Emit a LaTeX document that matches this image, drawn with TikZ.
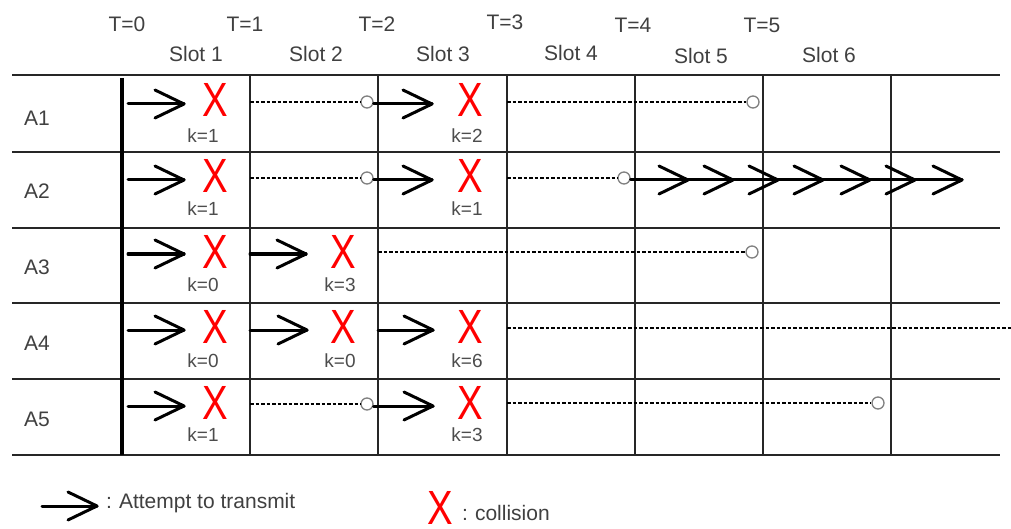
\documentclass[tikz,border=0pt]{standalone}
\usepackage{fontspec}
\setmainfont{Liberation Sans}
\usepackage{graphicx}
\def\chev(#1,#2){\draw[send] (#1-29,#2-14) -- (#1,#2) -- (#1-29,#2+14);}
\tikzset{
	gridline/.style={line width=2pt, color=black!85},
	send/.style={line width=3pt, line cap=round, line join=round},
	wait/.style={line width=1.2pt, dash pattern=on 3.5pt off 2pt},
	backoff/.style={circle, draw=black!50, fill=white, line width=1.3pt, inner sep=0pt, minimum size=12pt},
	lbl/.style={text=black!75, font=\fontsize{21}{24}\selectfont, inner sep=0pt},
	kval/.style={text=black!70, font=\fontsize{19}{22}\selectfont, inner sep=0pt},
	hit/.style={text=red, font=\fontsize{48}{48}\selectfont, inner sep=0pt},
}

\begin{document}
\begin{tikzpicture}[x=1pt, y=-1pt]
			%%%%% START %%%%%
			\useasboundingbox (0,0) rectangle (1011,529);
			
			\node[lbl] (t0) at (127,24) {T=0};
			\node[lbl] (t1) at (245,24) {T=1};
			\node[lbl] (t2) at (377,24) {T=2};
			\node[lbl] (t3) at (505,22) {T=3};
			\node[lbl] (t4) at (633,25) {T=4};
			\node[lbl] (t5) at (762,25) {T=5};
			
			\node[lbl] (s1) at (196,54) {Slot 1};
			\node[lbl] (s2) at (316,54) {Slot 2};
			\node[lbl] (s3) at (443,54) {Slot 3};
			\node[lbl] (s4) at (571,53) {Slot 4};
			\node[lbl] (s5) at (701,56) {Slot 5};
			\node[lbl] (s6) at (829,55) {Slot 6};
			
			\draw[gridline] (12,75) -- (1000,75);
			\draw[gridline] (12,152) -- (1000,152);
			\draw[gridline] (12,228) -- (1000,228);
			\draw[gridline] (12,303) -- (1000,303);
			\draw[gridline] (12,379) -- (1000,379);
			\draw[gridline] (12,455) -- (1000,455);
			\draw[gridline] (250,75) -- (250,455);
			\draw[gridline] (378,75) -- (378,455);
			\draw[gridline] (507,75) -- (507,455);
			\draw[gridline] (635,75) -- (635,455);
			\draw[gridline] (763,75) -- (763,455);
			\draw[gridline] (891,75) -- (891,455);
			\draw[line width=4.5pt] (122,78) -- (122,455);
			
			\node[lbl] (a1) at (37,118) {A1};
			\node[lbl] (a2) at (37,191) {A2};
			\node[lbl] (a3) at (37,267) {A3};
			\node[lbl] (a4) at (37,343) {A4};
			\node[lbl] (a5) at (37,419) {A5};
			
			% A1
			\draw[send] (128,104) -- (184,104); \chev(184,104);
			\node[hit] (x11) at (215,100) {\scalebox{0.8}[1]{X}};
			\node[kval] (k11) at (203,136) {k=1};
			\node[backoff] (w12) at (367,102) {};
			\draw[wait] (250,102) -- (w12.west);
			\draw[send] (w12.east |- 0,104) -- (432,104); \chev(432,104);
			\node[hit] (x13) at (470,100) {\scalebox{0.8}[1]{X}};
			\node[kval] (k13) at (467,136) {k=2};
			\node[backoff] (w15) at (753,102) {};
			\draw[wait] (507,102) -- (w15.west);
			
			% A2
			\draw[send] (128,180) -- (184,180); \chev(184,180);
			\node[hit] (x21) at (215,176) {\scalebox{0.8}[1]{X}};
			\node[kval] (k21) at (203,209) {k=1};
			\node[backoff] (w22) at (367,178) {};
			\draw[wait] (250,178) -- (w22.west);
			\draw[send] (w22.east |- 0,180) -- (432,180); \chev(432,180);
			\node[hit] (x23) at (470,176) {\scalebox{0.8}[1]{X}};
			\node[kval] (k23) at (467,209) {k=1};
			\node[backoff] (w24) at (624,178) {};
			\draw[wait] (507,178) -- (w24.west);
			\draw[send] (w24.east |- 0,180) -- (962,180);
			\chev(688,180); \chev(733,180); \chev(778,180); \chev(823,180);
			\chev(870,180); \chev(915,180); \chev(962,180);
			
			% A3
			\draw[send] (128,254) -- (184,254); \chev(184,254);
			\node[hit] (x31) at (215,252) {\scalebox{0.8}[1]{X}};
			\node[kval] (k31) at (203,285) {k=0};
			\draw[send] (250,254) -- (306,254); \chev(306,254);
			\node[hit] (x32) at (343,252) {\scalebox{0.8}[1]{X}};
			\node[kval] (k32) at (340,285) {k=3};
			\node[backoff] (w35) at (752,252) {};
			\draw[wait] (378,252) -- (w35.west);
			
			% A4
			\draw[send] (128,330) -- (184,330); \chev(184,330);
			\node[hit] (x41) at (215,327) {\scalebox{0.8}[1]{X}};
			\node[kval] (k41) at (203,361) {k=0};
			\draw[send] (250,330) -- (307,330); \chev(307,330);
			\node[hit] (x42) at (343,327) {\scalebox{0.8}[1]{X}};
			\node[kval] (k42) at (340,361) {k=0};
			\draw[send] (378,330) -- (433,330); \chev(433,330);
			\node[hit] (x43) at (470,327) {\scalebox{0.8}[1]{X}};
			\node[kval] (k43) at (467,361) {k=6};
			\draw[wait] (507,328) -- (1011,328);
			
			% A5
			\draw[send] (128,406) -- (184,406); \chev(184,406);
			\node[hit] (x51) at (215,403) {\scalebox{0.8}[1]{X}};
			\node[kval] (k51) at (203,435) {k=1};
			\node[backoff] (w52) at (367,404) {};
			\draw[wait] (250,404) -- (w52.west);
			\draw[send] (w52.east |- 0,406) -- (433,406); \chev(433,406);
			\node[hit] (x53) at (470,403) {\scalebox{0.8}[1]{X}};
			\node[kval] (k53) at (467,435) {k=3};
			\node[backoff] (w56) at (878,403) {};
			\draw[wait] (507,403) -- (w56.west);
			
			% legend
			\draw[send] (42,506) -- (97,506); \chev(97,506);
			\node[lbl, anchor=west] (lsend) at (106,503) {:\hspace{7pt}Attempt to transmit};
			\node[hit] (lhit) at (440,508) {\scalebox{0.8}[1]{X}};
			\node[lbl, anchor=west] (lcoll) at (462,513) {:\hspace{7pt}collision};
			
			%%%%% END %%%%%
\end{tikzpicture}
\end{document}
